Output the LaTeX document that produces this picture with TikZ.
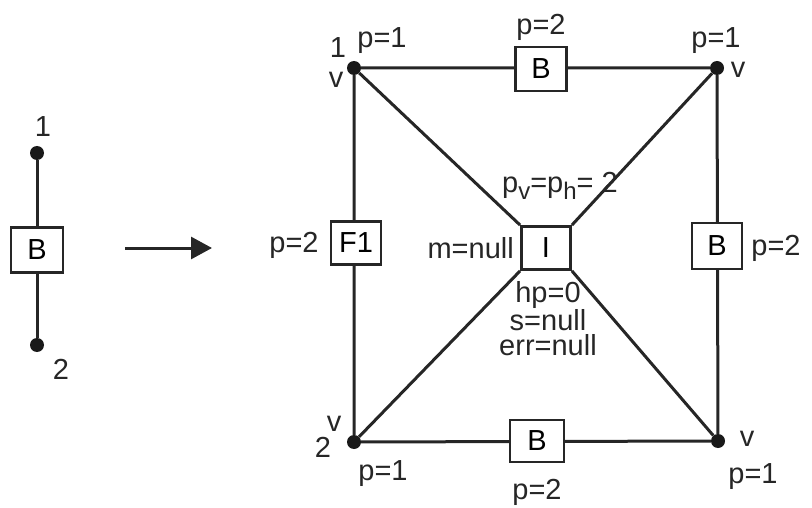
\documentclass[tikz,border=0pt]{standalone}
\usepackage{fontspec}
\setmainfont{Liberation Sans}
\usetikzlibrary{arrows.meta}
\newcommand{\subsc}[1]{\raisebox{-7pt}{\fontsize{24}{24}\selectfont #1}}
\begin{document}
\begin{tikzpicture}[x=1pt,y=-1pt,
  every node/.style={font=\fontsize{29}{24}\selectfont, inner sep=0pt},
  edge/.style={line width=3pt, draw=black!85},
  boxnode/.style={draw=black!85, line width=2.8pt, fill=white, minimum width=51pt, minimum height=44pt},
  dotnode/.style={circle, fill=black!90, minimum size=14pt, inner sep=0pt},
  lbl/.style={text=black!85}]
\useasboundingbox (0,0) rectangle (812,508);
% left small graph
\node[dotnode] (a1) at (37,153) {};
\node[dotnode] (a2) at (37,345) {};
\draw[edge] (a1) -- (a2);
\node[boxnode, minimum width=52pt, minimum height=45pt] (ab) at (37,250) {B};
\node[lbl] (la1) at (43,127) {1};
\node[lbl] (la2) at (61,369) {2};
% arrow
\coordinate (ar1) at (125,248);
\coordinate (ar2) at (212,248);
\draw[line width=3pt, draw=black!85, -{Triangle[length=21pt,width=22pt]}] (ar1) -- (ar2);
% square
\node[dotnode] (tl) at (354,68) {};
\node[dotnode] (tr) at (717,68) {};
\node[dotnode] (bl) at (354,442) {};
\node[dotnode] (br) at (718,441) {};
\node[boxnode, minimum width=49pt, minimum height=43pt] (I) at (546,248) {I};
\draw[edge] (tl) -- (tr) -- (br) -- (bl) -- (tl);
\draw[edge] (tl) -- (I.north west);
\draw[edge] (tr) -- (I.north east);
\draw[edge] (bl) -- (I.south west);
\draw[edge] (br) -- (I.south east);
\node[boxnode] (bt) at (541,69) {B};
\node[boxnode, minimum width=50pt, minimum height=46pt] (bri) at (717,246) {B};
\node[boxnode, minimum width=54pt, minimum height=42pt] (bb) at (537,441) {B};
\node[boxnode, minimum width=50pt, minimum height=43pt] (f1) at (356,243) {F1};
% labels
\node[lbl] (p1) at (541,27) {p=2};
\node[lbl] (p2) at (776,248) {p=2};
\node[lbl] (p3) at (537,492) {p=2};
\node[lbl] (p4) at (294,245) {p=2};
\node[lbl] (q1) at (382,41) {p=1};
\node[lbl] (n1) at (338,48) {1};
\node[lbl] (v1) at (336,80) {v};
\node[lbl] (q2) at (716,41) {p=1};
\node[lbl] (v2) at (738,70) {v};
\node[lbl] (v3) at (334,424) {v};
\node[lbl] (n3) at (323,447) {2};
\node[lbl] (q3) at (383,474) {p=1};
\node[lbl] (v4) at (747,439) {v};
\node[lbl] (q4) at (753,477) {p=1};
\node[lbl] (pvh) at (560,186) {p\subsc{v}=p\subsc{h}= 2};
\node[lbl, anchor=east] (mn) at (514,248) {m=null};
\node[lbl, align=center, anchor=north, font=\fontsize{29}{25}\selectfont] (hp) at (548,281) {hp=0\\s=null\\err=null};
\end{tikzpicture}
\end{document}
